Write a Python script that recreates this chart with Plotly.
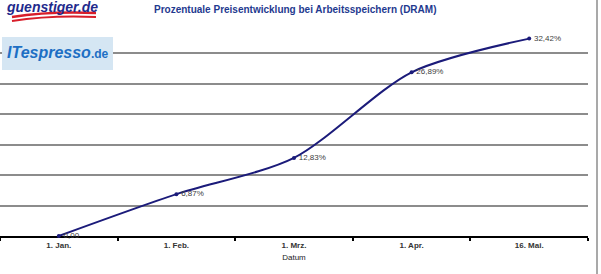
import plotly.graph_objects as go

categories = ["1. Jan.", "1. Feb.", "1. Mrz.", "1. Apr.", "16. Mai."]
values = [0.0, 6.87, 12.83, 26.89, 32.42]
labels = ["0,00", "6,87%", "12,83%", "26,89%", "32,42%"]

W, H = 601, 274
L, R, T, B = 0, 13, 29, 38
PW, PH = W - L - R, H - T - B

def px(x):
    return (x - L) / PW

def py(y):
    return (H - B - y) / PH

fig = go.Figure()
fig.add_trace(go.Scatter(
    x=categories, y=values, mode="lines+markers",
    line=dict(color="#1b1b7a", width=2, shape="spline", smoothing=0.8),
    marker=dict(color="#1b1b7a", size=4),
    cliponaxis=False, showlegend=False,
))
fig.add_trace(go.Scatter(
    x=categories, y=values, mode="markers+text",
    marker=dict(size=6, opacity=0),
    text=labels, textposition="middle right",
    textfont=dict(family="Arial", size=8, color="#404040"),
    cliponaxis=False, showlegend=False, hoverinfo="skip",
))

fig.update_layout(
    width=W, height=H,
    margin=dict(l=L, r=R, t=T, b=B),
    paper_bgcolor="white", plot_bgcolor="white",
    xaxis=dict(
        type="category", range=[-0.5, 4.5], tickson="boundaries",
        ticks="outside", ticklen=3, tickcolor="#000", tickwidth=1.5,
        showline=True, linecolor="#000", linewidth=2,
        showgrid=False, layer="below traces",
        tickfont=dict(family="Arial", size=8, color="#333333", weight="bold"),
        title=dict(text="Datum", font=dict(family="Arial", size=8, color="#222222"), standoff=6),
    ),
    yaxis=dict(
        range=[0, 34], dtick=5, showticklabels=False, ticks="",
        showgrid=True, gridcolor="#8c8c8c", gridwidth=1.5,
        zeroline=False, showline=False, layer="below traces",
    ),
)

fig.add_annotation(
    text="<b>Prozentuale Preisentwicklung bei Arbeitsspeichern (DRAM)</b>",
    xref="paper", yref="paper", x=px(295), y=py(9), showarrow=False,
    xanchor="center", yanchor="middle",
    font=dict(family="Arial", size=10, color="#1f3a8f"),
)

# right border
fig.add_shape(type="line", xref="paper", yref="paper",
              x0=px(597), x1=px(597), y0=py(0), y1=py(274),
              line=dict(color="#8c8c8c", width=1.5))

# ITespresso box
fig.add_shape(type="rect", xref="paper", yref="paper",
              x0=px(2), x1=px(113), y0=py(70), y1=py(37),
              fillcolor="#d5e6f3", line=dict(width=0), layer="above")
fig.add_annotation(
    text="<b><i>ITespresso</i></b><b><span style='font-size:12px'>.de</span></b>",
    xref="paper", yref="paper", x=px(58), y=py(53), showarrow=False,
    xanchor="center", yanchor="middle",
    font=dict(family="Arial", size=16, color="#1d6fc4"),
)

# guenstiger logo
for yy, wd in [(17, 2.5), (21, 2)]:
    fig.add_shape(type="path", xref="paper", yref="paper",
                  path=f"M {px(12)},{py(yy)} Q {px(50)},{py(yy-6)} {px(96)},{py(yy-4)}",
                  line=dict(color="#d81e2a", width=wd))
fig.add_annotation(
    text="<b><i>guenstiger.de</i></b>",
    xref="paper", yref="paper", x=px(52), y=py(7), showarrow=False,
    xanchor="center", yanchor="middle",
    font=dict(family="Arial", size=14, color="#1f2a8c"),
)

fig.write_html("out.html")
